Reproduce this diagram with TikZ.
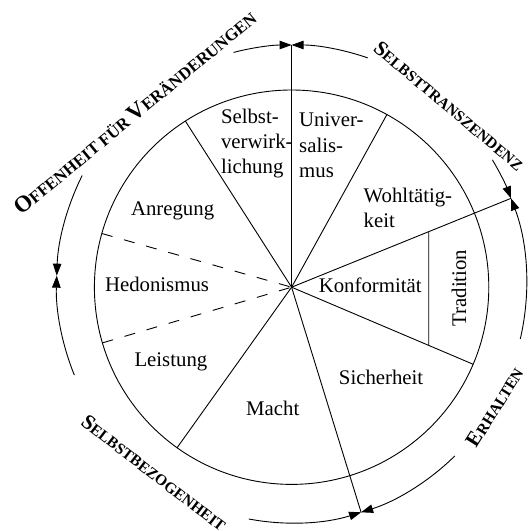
\documentclass[tikz,border=0pt]{standalone}
\usepackage{fontspec}
\setmainfont{Liberation Serif}
\usetikzlibrary{arrows.meta,calc}
\newcommand{\bigL}[1]{{\fontsize{21}{21}\selectfont #1}}
\newcommand{\bigLL}[1]{{\fontsize{23}{23}\selectfont #1}}
\begin{document}
\begin{tikzpicture}[x=1pt,y=1pt,
  ln/.style={line width=0.9pt},
  arr/.style={line width=0.9pt,-{Triangle[length=12pt,width=8.5pt]}},
  dsh/.style={line width=0.9pt,dash pattern=on 11pt off 12pt},
  lab/.style={font=\fontsize{20.8}{25.4}\selectfont, inner sep=0pt},
  grp/.style={font=\bfseries\fontsize{15.5}{15.5}\selectfont, inner sep=0pt, anchor=base}]
\useasboundingbox (0,0) rectangle (531,531);
\coordinate (C) at (291.6,243.8);
\coordinate (O) at (291.6,247);
% outer meeting points
\coordinate (P90) at ($(O)+(90:235 and 239)$);
\coordinate (P21) at ($(O)+(21:235 and 239)$);
\coordinate (Pm73) at ($(O)+(-72.8:235 and 239)$);
% circle points
\coordinate (Q61) at ($(C)+(61.1:197.2)$);
\coordinate (Qm23) at ($(C)+(-23:197.2)$);
\coordinate (Qm125) at ($(C)+(-125.5:197.2)$);
\coordinate (Q123) at ($(C)+(122.6:197.2)$);
\coordinate (Q164) at ($(C)+(164.2:197.2)$);
\coordinate (Q196) at ($(C)+(196.4:197.2)$);
\coordinate (TA) at (428.7,0);
\coordinate (TB) at (428.7,531);
% circle
\draw[ln] (C) circle[radius=197.2];
% radial lines
\draw[ln] (C) -- (P90);
\draw[ln] (C) -- (P21);
\draw[ln] (C) -- (Pm73);
\draw[ln] (C) -- (Q61);
\draw[ln] (C) -- (Qm23);
\draw[ln] (C) -- (Qm125);
\draw[ln] (C) -- (Q123);
\draw[dsh] (Q164) -- (C);
\draw[dsh] (Q196) -- (C);
\draw[ln] (intersection of C--P21 and TA--TB) -- (intersection of C--Qm23 and TA--TB);
% outer arcs
\coordinate (A1) at ($(O)+(104.3:235 and 239)$);
\coordinate (A2) at ($(O)+(71.1:235 and 239)$);
\coordinate (A3) at ($(O)+(31.3:235 and 239)$);
\coordinate (A4) at ($(O)+(-13.3:235 and 239)$);
\coordinate (A5) at ($(O)+(-46:235 and 239)$);
\coordinate (A6) at ($(O)+(-100.5:235 and 239)$);
\coordinate (A7) at ($(O)+(202.4:235 and 239)$);
\coordinate (A8) at ($(O)+(153:235 and 239)$);
\draw[arr] (A1) arc[start angle=104.3, end angle=90, x radius=235, y radius=239];
\draw[arr] (A2) arc[start angle=71.1, end angle=90, x radius=235, y radius=239];
\draw[arr] (A3) arc[start angle=31.3, end angle=21, x radius=235, y radius=239];
\draw[arr] (A4) arc[start angle=-13.3, end angle=21, x radius=235, y radius=239];
\draw[arr] (A5) arc[start angle=-46, end angle=-72.8, x radius=235, y radius=239];
\draw[arr] (A6) arc[start angle=-100.5, end angle=-72.8, x radius=235, y radius=239];
\draw[arr] (A7) arc[start angle=202.4, end angle=178, x radius=235, y radius=239];
\draw[arr] (A8) arc[start angle=153, end angle=178, x radius=235, y radius=239];
% segment labels
\node[lab, anchor=base west, align=left] (sv) at (220.8,357) {Selbst-\\verwirk-\\lichung};
\node[lab, anchor=base west, align=left] (un) at (299,353.5) {Univer-\\salis-\\mus};
\node[lab, anchor=base west, align=left] (wo) at (363.5,303.5) {Wohltätig-\\keit};
\node[lab, anchor=base] (an) at (172.6,315) {Anregung};
\node[lab, anchor=base] (he) at (157,239.3) {Hedonismus};
\node[lab, anchor=base] (le) at (170.9,164) {Leistung};
\node[lab, anchor=base] (ma) at (272.8,115.5) {Macht};
\node[lab, anchor=base] (si) at (381.1,146.5) {Sicherheit};
\node[lab, anchor=base] (ko) at (370.2,238.5) {Konformität};
\node[lab, anchor=base, rotate=90] (tr) at (466,243) {Tradition};
% group labels
\node[grp, font=\bfseries\fontsize{16.8}{17}\selectfont, rotate=39.5] (g1) at (139.5,412.8) {\bigLL{O}FFENHEIT FÜR \bigLL{V}ERÄNDERUNGEN};
\node[grp, rotate=-40] (g2) at (444.8,420.1) {\bigL{S}ELBSTTRANSZENDENZ};
\node[grp, rotate=58] (g3) at (500.5,120.6) {\bigL{E}RHALTEN};
\node[grp, rotate=-37.6] (g4) at (150.1,52.8) {\bigL{S}ELBSTBEZOGENHEIT};
\end{tikzpicture}
\end{document}
